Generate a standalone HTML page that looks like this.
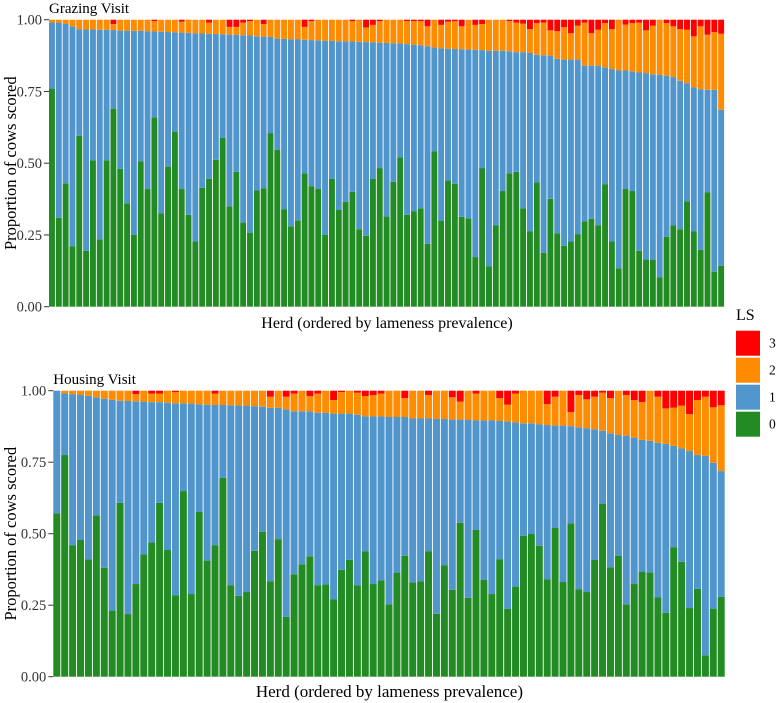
<!DOCTYPE html>
<html><head><meta charset="utf-8"><style>
body{margin:0;background:#fff;}
svg{display:block;}
svg text{font-family:"Liberation Serif","DejaVu Serif",serif;}
</style></head><body>
<svg id="chart" width="777" height="703" viewBox="0 0 777 703" font-family="Liberation Serif, serif"></svg>
<script>
const topG=[.76,.31,.43,.21,.595,.195,.51,.235,.51,.69,.48,.36,.25,.507,.41,.66,.325,.488,.61,.41,.32,.227,.414,.446,.512,.588,.35,.47,.293,.258,.405,.413,.605,.547,.34,.28,.30,.465,.42,.41,.25,.445,.337,.365,.40,.27,.247,.445,.483,.314,.435,.52,.32,.333,.343,.219,.542,.30,.44,.428,.313,.308,.173,.483,.14,.283,.403,.465,.47,.343,.262,.433,.188,.376,.256,.212,.227,.253,.297,.306,.284,.427,.227,.134,.41,.403,.195,.165,.164,.103,.244,.283,.27,.367,.262,.198,.398,.122,.143];
const topC1=[.99,.99,.985,.977,.967,.966,.966,.965,.965,.964,.962,.962,.961,.961,.96,.959,.958,.957,.956,.955,.954,.953,.952,.951,.95,.949,.948,.947,.946,.945,.942,.941,.940,.934,.933,.932,.931,.930,.929,.928,.927,.926,.925,.925,.924,.923,.922,.921,.920,.919,.918,.917,.915,.913,.911,.907,.903,.900,.899,.898,.897,.896,.895,.894,.892,.892,.892,.890,.887,.887,.884,.878,.876,.875,.864,.861,.861,.861,.840,.840,.840,.834,.828,.823,.823,.820,.816,.814,.810,.808,.805,.800,.787,.779,.764,.758,.756,.756,.686];
const topC2=[1,1,1,1,1,1,1,1,1,.985,1,1,1,1,1,.995,1,1,1,.993,1,1,1,.99,1,1,.975,.975,.99,.995,1,.985,1,1,1,1,1,.975,.995,1,1,1,1,1,.995,1,.973,.982,.995,1,1,1,.995,.995,.995,.977,1,.982,.993,.995,.977,1,.982,.985,1,1,1,.995,.99,.986,.967,.988,.99,.963,.96,.974,.953,.979,.99,.953,.965,.988,.967,1,.983,.988,.99,.963,.979,1,.988,.977,.967,.965,.942,.977,.948,.957,.951];
const botG=[.571,.775,.46,.478,.41,.564,.381,.231,.608,.219,.324,.428,.469,.608,.443,.284,.649,.289,.576,.406,.46,.695,.319,.283,.296,.44,.507,.334,.481,.209,.358,.393,.421,.32,.323,.27,.374,.409,.32,.438,.324,.337,.253,.364,.423,.33,.334,.439,.22,.39,.304,.538,.276,.513,.338,.289,.411,.237,.315,.493,.499,.458,.341,.52,.331,.536,.305,.296,.408,.604,.382,.422,.253,.324,.366,.364,.277,.223,.453,.402,.24,.307,.075,.238,.279];
const botC1=[1,.99,.988,.985,.982,.977,.972,.968,.965,.964,.963,.962,.96,.96,.958,.956,.956,.955,.952,.951,.95,.95,.949,.948,.948,.946,.944,.94,.94,.935,.928,.928,.928,.923,.923,.92,.92,.92,.916,.91,.91,.91,.908,.908,.908,.903,.903,.903,.901,.901,.899,.899,.899,.896,.896,.896,.894,.892,.889,.886,.886,.883,.88,.878,.878,.876,.872,.869,.865,.86,.851,.845,.843,.836,.828,.825,.818,.814,.807,.798,.789,.775,.772,.748,.719];
const botC2=[1,1,1,1,1,1,1,1,1,1,.988,1,.99,.99,1,.995,1,1,1,1,.99,1,1,1,1,1,1,.979,1,.979,.99,1,.981,.99,1,.967,.995,1,.993,.981,.985,.99,1,1,.974,1,1,.985,1,1,.977,.962,1,.99,1,1,.974,.951,.99,1,1,1,.953,.979,1,.925,.985,.97,.979,.993,.974,1,.985,.967,.96,1,.979,.938,.941,.948,.918,.967,.979,.942,.949];
const yTicks=["0.00","0.25","0.50","0.75","1.00"];
const colors={3:"#ff0000",2:"#ff8c00",1:"#5195cd",0:"#238b23"};
const svg=document.getElementById('chart');
const NS="http://www.w3.org/2000/svg";
const FF="Liberation Serif, DejaVu Serif, serif";
function mk(tag,attrs,parent){const e=document.createElementNS(NS,tag);for(const k in attrs)e.setAttribute(k,attrs[k]);if(tag==='text')e.setAttribute('font-family',FF);(parent||svg).appendChild(e);return e;}
function panel(name,title,G,C1,C2,x0,x1,yTop,yBot,titleY,xTitleY,xTitleSize){
  const g=mk('g',{});
  
  
  const n=G.length,pitch=(x1-x0)/n;
  const ys=v=>yBot-v*(yBot-yTop);
  for(let i=0;i<n;i++){
    const x=x0+i*pitch,w=pitch-0.9;
    const segs=[[0,G[i],0],[G[i],C1[i],1],[C1[i],C2[i],2],[C2[i],1,3]];
    segs.forEach(s=>{
      if(s[1]-s[0]<=0.0005)return;
      const r=mk('rect',{x:x.toFixed(2),y:ys(s[1]).toFixed(2),width:w.toFixed(2),height:(ys(s[0])-ys(s[1])).toFixed(2),fill:colors[s[2]]},g);
      
      
    });
  }
  yTicks.forEach((t,k)=>{
    const y=ys(parseFloat(t));
    const l=mk('line',{x1:x0-5,x2:x0,y1:y,y2:y,stroke:'#333','stroke-width':1},g);
    
    
    const tx=mk('text',{x:x0-7,y:y+5,'text-anchor':'end','font-size':14.5,fill:'#333'},g);
    tx.textContent=t;
    
    
  });
  const tt=mk('text',{x:x0,y:titleY,'font-size':15,fill:'#000'},g);
  tt.textContent=title;
  
  
  const yt=mk('text',{x:0,y:0,'font-size':16.5,fill:'#000','text-anchor':'middle',transform:`translate(16,${(yTop+yBot)/2}) rotate(-90)`},g);
  yt.textContent='Proportion of cows scored';
  
  
  const xt=mk('text',{x:(x0+x1)/2,y:xTitleY,'font-size':xTitleSize,fill:'#000','text-anchor':'middle'},g);
  xt.textContent='Herd (ordered by lameness prevalence)';
  
  
}
panel('grazing','Grazing Visit',topG,topC1,topC2,49,725,19.7,306.7,13,328,16);
panel('housing','Housing Visit',botG,botC1,botC2,53.3,725.6,390.7,676.7,384,697,17);
const lg=mk('g',{});


const lt=mk('text',{x:736,y:320,'font-size':16,fill:'#000'},lg);
lt.textContent='LS';


[3,2,1,0].forEach((k,i)=>{
  const y=330.7+i*27;
  const r=mk('rect',{x:736,y:y,width:24,height:25,fill:colors[k]},lg);
  
  
  const t=mk('text',{x:769,y:y+17,'font-size':13.5,fill:'#000'},lg);
  t.textContent=String(k);
  
  
});
</script>
</body></html>
